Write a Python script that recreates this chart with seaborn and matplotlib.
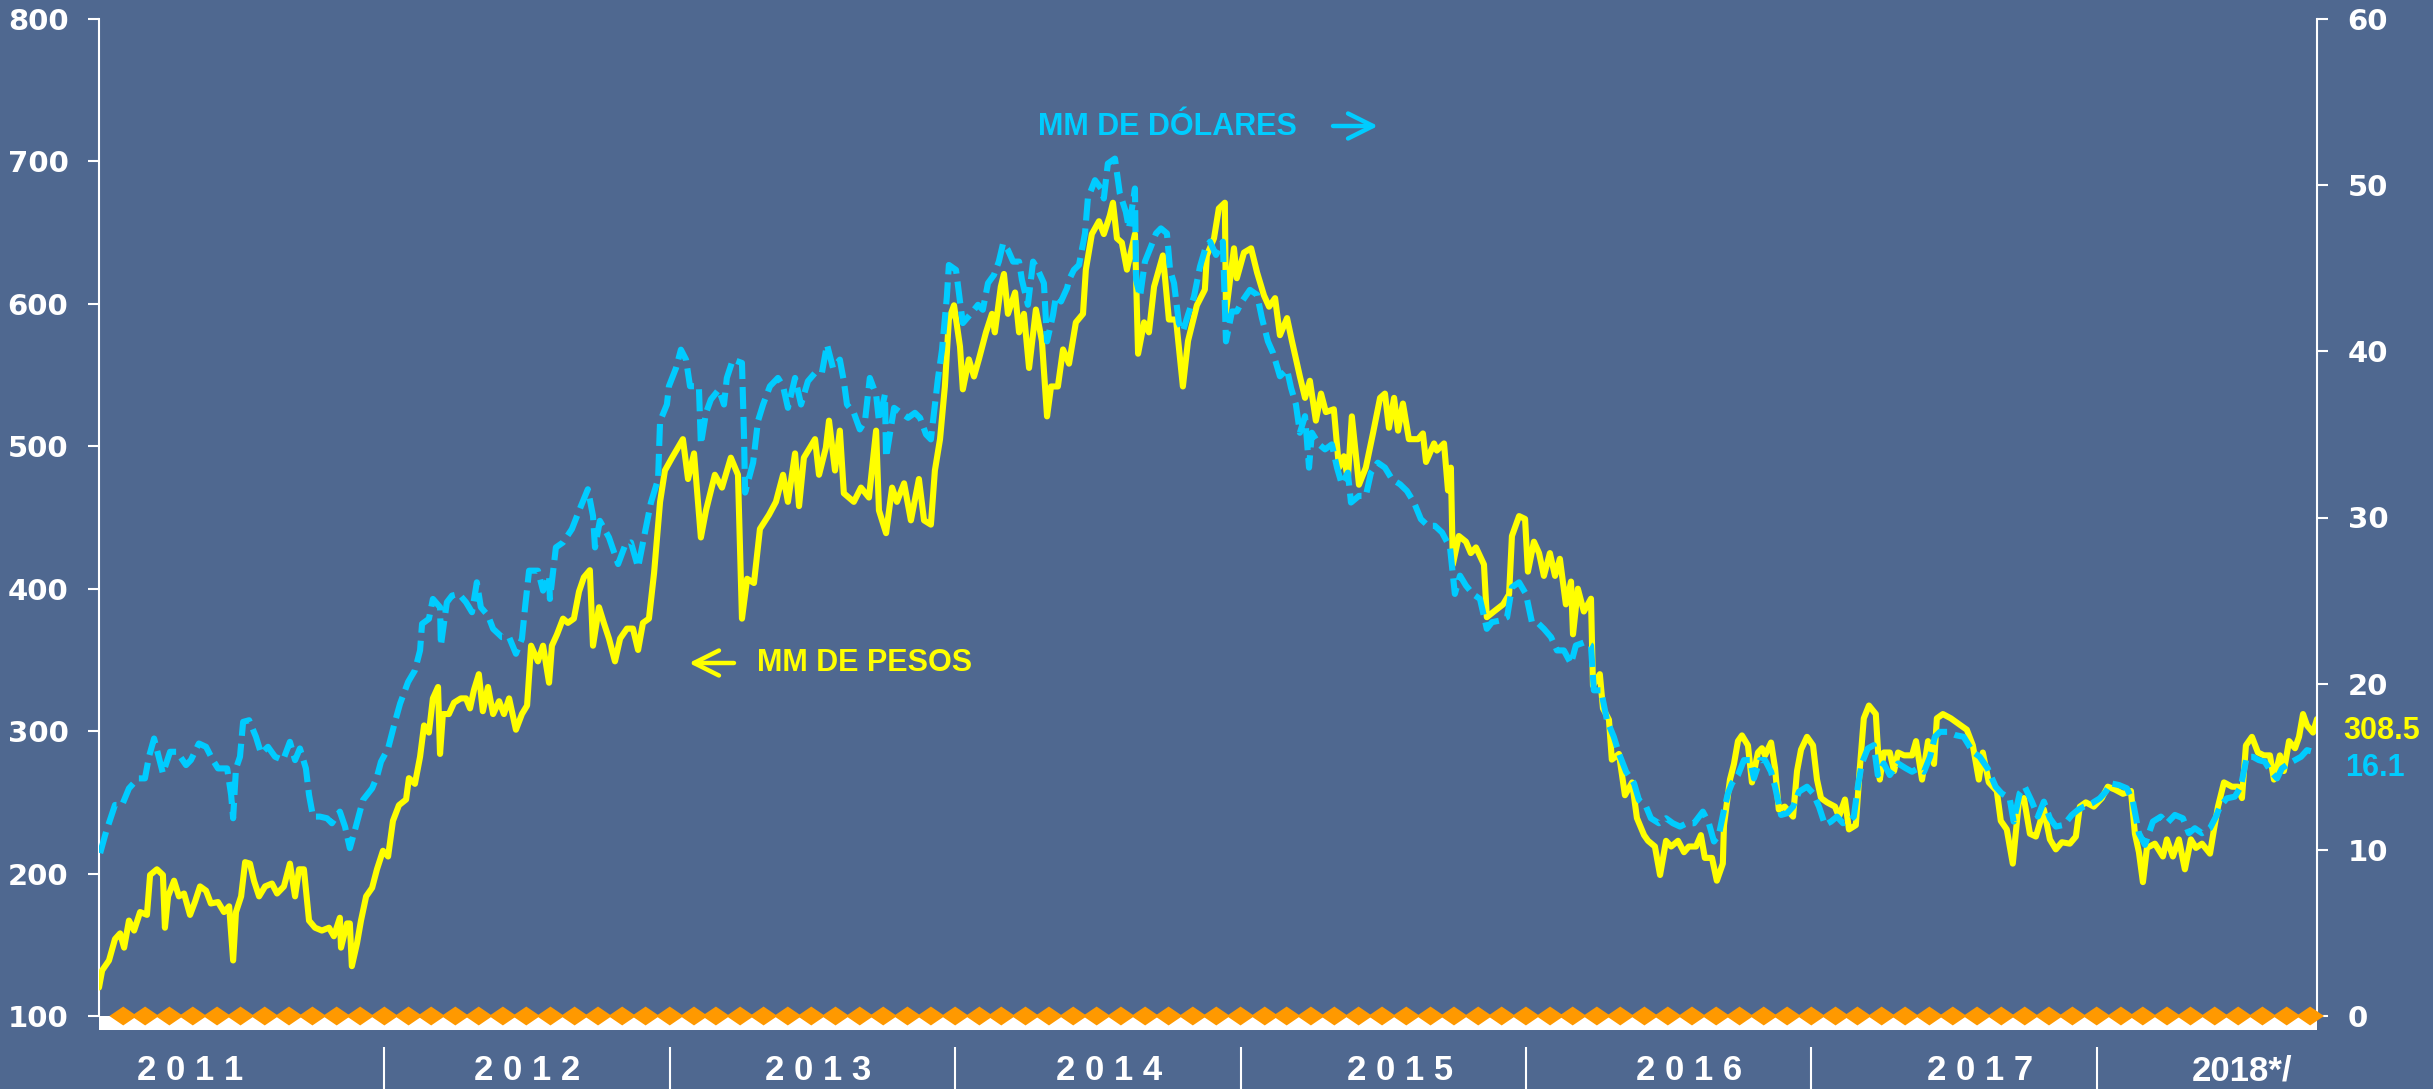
import matplotlib

matplotlib.use("Agg")

import matplotlib.pyplot as plt
import matplotlib.transforms as mtransforms
import numpy as np
import pandas as pd
import seaborn as sns
from matplotlib.patches import Rectangle
from matplotlib.path import Path

BACKGROUND = "#4F6890"
YELLOW = "#FFFF00"
CYAN = "#00CCFF"
ORANGE = "#FF9900"
WHITE = "#FFFFFF"

# MM de pesos (left axis), fractional year vs value
peso_t = [
    2011.000, 2011.011, 2011.035, 2011.056, 2011.074, 2011.088, 2011.105, 2011.123, 2011.144, 2011.168,
    2011.179, 2011.203, 2011.224, 2011.231, 2011.242, 2011.263, 2011.280, 2011.298, 2011.319, 2011.336,
    2011.354, 2011.375, 2011.392, 2011.417, 2011.438, 2011.456, 2011.470, 2011.480, 2011.498, 2011.512,
    2011.529, 2011.543, 2011.561, 2011.582, 2011.606, 2011.624, 2011.648, 2011.669, 2011.687, 2011.701,
    2011.718, 2011.736, 2011.757, 2011.781, 2011.806, 2011.823, 2011.844, 2011.848, 2011.869, 2011.879,
    2011.886, 2011.904, 2011.918, 2011.936, 2011.957, 2011.974, 2011.995, 2012.013, 2012.030, 2012.051,
    2012.076, 2012.086, 2012.107, 2012.125, 2012.139, 2012.156, 2012.170, 2012.188, 2012.195, 2012.205,
    2012.226, 2012.244, 2012.268, 2012.286, 2012.300, 2012.314, 2012.331, 2012.345, 2012.363, 2012.381,
    2012.402, 2012.419, 2012.437, 2012.461, 2012.482, 2012.500, 2012.514, 2012.538, 2012.556, 2012.577,
    2012.587, 2012.605, 2012.626, 2012.643, 2012.664, 2012.682, 2012.699, 2012.720, 2012.731, 2012.752,
    2012.769, 2012.787, 2012.808, 2012.826, 2012.850, 2012.871, 2012.889, 2012.906, 2012.927, 2012.945,
    2012.966, 2012.983, 2013.008, 2013.046, 2013.064, 2013.085, 2013.109, 2013.127, 2013.158, 2013.183,
    2013.214, 2013.239, 2013.253, 2013.271, 2013.295, 2013.316, 2013.348, 2013.372, 2013.397, 2013.414,
    2013.439, 2013.453, 2013.470, 2013.509, 2013.523, 2013.547, 2013.558, 2013.579, 2013.596, 2013.610,
    2013.645, 2013.670, 2013.698, 2013.723, 2013.733, 2013.758, 2013.779, 2013.796, 2013.821, 2013.845,
    2013.873, 2013.891, 2013.915, 2013.929, 2013.947, 2013.964, 2013.978, 2013.996, 2014.017, 2014.027,
    2014.048, 2014.066, 2014.083, 2014.108, 2014.129, 2014.139, 2014.160, 2014.171, 2014.185, 2014.210,
    2014.224, 2014.241, 2014.259, 2014.283, 2014.304, 2014.322, 2014.336, 2014.360, 2014.378, 2014.399,
    2014.423, 2014.448, 2014.458, 2014.479, 2014.504, 2014.521, 2014.542, 2014.553, 2014.567, 2014.584,
    2014.602, 2014.630, 2014.641, 2014.662, 2014.679, 2014.697, 2014.728, 2014.749, 2014.774, 2014.798,
    2014.816, 2014.847, 2014.875, 2014.882, 2014.907, 2014.924, 2014.945, 2014.949, 2014.977, 2014.987,
    2015.012, 2015.037, 2015.058, 2015.082, 2015.100, 2015.121, 2015.138, 2015.163, 2015.180, 2015.208,
    2015.226, 2015.243, 2015.264, 2015.282, 2015.299, 2015.327, 2015.345, 2015.362, 2015.376, 2015.390,
    2015.415, 2015.439, 2015.464, 2015.489, 2015.506, 2015.520, 2015.538, 2015.552, 2015.569, 2015.590,
    2015.622, 2015.639, 2015.650, 2015.678, 2015.688, 2015.713, 2015.727, 2015.737, 2015.744, 2015.765,
    2015.790, 2015.807, 2015.825, 2015.853, 2015.863, 2015.888, 2015.920, 2015.941, 2015.951, 2015.976,
    2015.997, 2016.007, 2016.028, 2016.046, 2016.063, 2016.084, 2016.102, 2016.119, 2016.140, 2016.158,
    2016.165, 2016.182, 2016.203, 2016.228, 2016.235, 2016.259, 2016.270, 2016.291, 2016.301, 2016.326,
    2016.347, 2016.372, 2016.389, 2016.414, 2016.428, 2016.452, 2016.470, 2016.491, 2016.509, 2016.533,
    2016.554, 2016.571, 2016.596, 2016.613, 2016.627, 2016.652, 2016.669, 2016.690, 2016.694, 2016.715,
    2016.729, 2016.743, 2016.757, 2016.778, 2016.792, 2016.813, 2016.827, 2016.838, 2016.859, 2016.873,
    2016.886, 2016.907, 2016.936, 2016.950, 2016.964, 2016.985, 2017.006, 2017.020, 2017.034, 2017.055,
    2017.083, 2017.097, 2017.118, 2017.132, 2017.156, 2017.170, 2017.184, 2017.202, 2017.226, 2017.240,
    2017.254, 2017.275, 2017.290, 2017.304, 2017.325, 2017.353, 2017.367, 2017.388, 2017.409, 2017.430,
    2017.440, 2017.461, 2017.489, 2017.510, 2017.545, 2017.566, 2017.587, 2017.601, 2017.622, 2017.650,
    2017.664, 2017.685, 2017.706, 2017.727, 2017.745, 2017.766, 2017.787, 2017.815, 2017.836, 2017.857,
    2017.878, 2017.906, 2017.927, 2017.941, 2017.962, 2017.990, 2018.018, 2018.039, 2018.064, 2018.092,
    2018.120, 2018.134, 2018.148, 2018.162, 2018.176, 2018.204, 2018.232, 2018.246, 2018.267, 2018.288,
    2018.309, 2018.330, 2018.348, 2018.369, 2018.397, 2018.411, 2018.425, 2018.446, 2018.474, 2018.495,
    2018.509, 2018.523, 2018.544, 2018.565, 2018.586, 2018.607, 2018.621, 2018.642, 2018.656, 2018.674,
    2018.695, 2018.709, 2018.723, 2018.737, 2018.758, 2018.772,
]
peso_mm = [
    120, 132, 139, 154, 158, 148, 167, 160, 173, 171,
    199, 203, 199, 162, 184, 195, 184, 186, 171, 180,
    191, 188, 179, 180, 173, 177, 139, 173, 184, 208,
    207, 195, 184, 191, 193, 186, 191, 207, 184, 203,
    203, 167, 162, 160, 162, 156, 169, 148, 165, 165,
    135, 151, 167, 184, 190, 203, 216, 212, 237, 248,
    252, 267, 263, 282, 304, 299, 323, 331, 284, 312,
    312, 320, 323, 323, 316, 329, 340, 314, 331, 312,
    321, 312, 323, 301, 312, 318, 360, 349, 360, 334,
    360, 368, 379, 376, 379, 398, 408, 413, 360, 387,
    376, 365, 349, 365, 372, 372, 357, 376, 379, 411,
    461, 483, 492, 505, 477, 495, 436, 455, 480, 471,
    492, 480, 379, 407, 404, 442, 452, 461, 480, 461,
    495, 458, 492, 505, 480, 499, 518, 483, 511, 467,
    461, 471, 464, 511, 455, 439, 471, 461, 474, 448,
    477, 448, 445, 483, 505, 542, 589, 599, 570, 540,
    561, 549, 561, 580, 593, 580, 612, 621, 593, 608,
    580, 593, 555, 596, 574, 521, 542, 542, 568, 558,
    587, 593, 624, 649, 658, 649, 662, 671, 646, 643,
    624, 649, 565, 587, 580, 612, 634, 589, 589, 542,
    574, 599, 610, 634, 646, 667, 671, 594, 639, 618,
    636, 639, 622, 606, 598, 604, 578, 590, 574, 549,
    534, 546, 518, 537, 524, 526, 485, 493, 477, 521,
    473, 485, 509, 534, 537, 513, 534, 511, 530, 505,
    505, 509, 489, 502, 497, 502, 469, 485, 417, 437,
    433, 425, 429, 417, 380, 384, 389, 396, 437, 451,
    449, 412, 433, 425, 409, 425, 409, 421, 389, 405,
    368, 400, 384, 393, 332, 340, 316, 308, 280, 284,
    255, 264, 239, 227, 223, 219, 199, 223, 219, 223,
    215, 219, 219, 227, 211, 211, 195, 207, 234, 266,
    277, 293, 297, 290, 264, 285, 288, 283, 292, 274,
    245, 247, 240, 272, 287, 296, 290, 266, 253, 250,
    247, 240, 252, 231, 234, 274, 309, 318, 312, 266,
    285, 285, 272, 285, 283, 283, 293, 266, 293, 277,
    309, 312, 309, 306, 301, 290, 266, 285, 264, 258,
    237, 231, 207, 250, 253, 228, 226, 245, 224, 217,
    222, 221, 226, 247, 250, 247, 253, 261, 259, 256,
    258, 228, 215, 194, 218, 221, 212, 224, 212, 224,
    203, 224, 218, 221, 214, 231, 247, 264, 261, 261,
    253, 290, 296, 285, 283, 283, 266, 283, 272, 293,
    288, 296, 312, 304, 299, 308.5,
]

# MM de dolares (right axis)
usd_t = [
    2011.004, 2011.025, 2011.056, 2011.081, 2011.105, 2011.137, 2011.161, 2011.175, 2011.193, 2011.224,
    2011.249, 2011.273, 2011.305, 2011.322, 2011.350, 2011.375, 2011.399, 2011.417, 2011.449, 2011.463,
    2011.470, 2011.480, 2011.494, 2011.505, 2011.526, 2011.550, 2011.568, 2011.592, 2011.617, 2011.645,
    2011.669, 2011.687, 2011.704, 2011.725, 2011.736, 2011.750, 2011.774, 2011.799, 2011.816, 2011.844,
    2011.862, 2011.879, 2011.900, 2011.925, 2011.957, 2011.974, 2011.988, 2012.013, 2012.037, 2012.055,
    2012.083, 2012.107, 2012.125, 2012.132, 2012.156, 2012.170, 2012.195, 2012.198, 2012.219, 2012.237,
    2012.261, 2012.286, 2012.307, 2012.324, 2012.338, 2012.363, 2012.381, 2012.412, 2012.437, 2012.461,
    2012.482, 2012.493, 2012.507, 2012.538, 2012.556, 2012.577, 2012.580, 2012.601, 2012.626, 2012.657,
    2012.682, 2012.713, 2012.731, 2012.738, 2012.755, 2012.787, 2012.819, 2012.843, 2012.864, 2012.889,
    2012.913, 2012.934, 2012.959, 2012.966, 2012.990, 2012.997, 2013.022, 2013.039, 2013.057, 2013.071,
    2013.102, 2013.109, 2013.127, 2013.144, 2013.172, 2013.190, 2013.200, 2013.221, 2013.253, 2013.260,
    2013.264, 2013.292, 2013.309, 2013.327, 2013.351, 2013.379, 2013.397, 2013.414, 2013.439, 2013.460,
    2013.484, 2013.509, 2013.533, 2013.551, 2013.572, 2013.596, 2013.610, 2013.621, 2013.645, 2013.666,
    2013.684, 2013.701, 2013.723, 2013.733, 2013.754, 2013.758, 2013.786, 2013.810, 2013.835, 2013.859,
    2013.877, 2013.898, 2013.915, 2013.929, 2013.940, 2013.954, 2013.971, 2013.978, 2014.003, 2014.017,
    2014.027, 2014.052, 2014.080, 2014.097, 2014.115, 2014.136, 2014.153, 2014.168, 2014.185, 2014.203,
    2014.224, 2014.234, 2014.255, 2014.273, 2014.290, 2014.311, 2014.322, 2014.343, 2014.353, 2014.371,
    2014.392, 2014.399, 2014.416, 2014.434, 2014.455, 2014.465, 2014.490, 2014.511, 2014.521, 2014.535,
    2014.560, 2014.577, 2014.598, 2014.609, 2014.630, 2014.634, 2014.648, 2014.665, 2014.686, 2014.704,
    2014.721, 2014.742, 2014.753, 2014.767, 2014.784, 2014.798, 2014.816, 2014.837, 2014.858, 2014.875,
    2014.893, 2014.914, 2014.938, 2014.949, 2014.970, 2014.987, 2015.005, 2015.033, 2015.058, 2015.075,
    2015.096, 2015.114, 2015.138, 2015.163, 2015.177, 2015.194, 2015.208, 2015.226, 2015.240, 2015.250,
    2015.275, 2015.296, 2015.320, 2015.338, 2015.355, 2015.376, 2015.387, 2015.415, 2015.439, 2015.457,
    2015.481, 2015.506, 2015.531, 2015.559, 2015.583, 2015.608, 2015.632, 2015.657, 2015.681, 2015.706,
    2015.734, 2015.751, 2015.769, 2015.790, 2015.814, 2015.839, 2015.863, 2015.881, 2015.909, 2015.934,
    2015.951, 2015.976, 2016.000, 2016.021, 2016.039, 2016.063, 2016.088, 2016.109, 2016.133, 2016.158,
    2016.175, 2016.207, 2016.228, 2016.238, 2016.263, 2016.284, 2016.308, 2016.326, 2016.351, 2016.379,
    2016.396, 2016.421, 2016.438, 2016.466, 2016.491, 2016.515, 2016.540, 2016.564, 2016.589, 2016.620,
    2016.641, 2016.659, 2016.676, 2016.694, 2016.708, 2016.722, 2016.743, 2016.764, 2016.785, 2016.799,
    2016.820, 2016.838, 2016.859, 2016.873, 2016.894, 2016.915, 2016.936, 2016.957, 2016.985, 2017.006,
    2017.027, 2017.048, 2017.069, 2017.090, 2017.111, 2017.132, 2017.149, 2017.163, 2017.177, 2017.198,
    2017.219, 2017.233, 2017.254, 2017.275, 2017.304, 2017.332, 2017.353, 2017.374, 2017.395, 2017.416,
    2017.433, 2017.451, 2017.478, 2017.506, 2017.534, 2017.566, 2017.590, 2017.618, 2017.646, 2017.667,
    2017.695, 2017.709, 2017.730, 2017.748, 2017.773, 2017.794, 2017.815, 2017.836, 2017.857, 2017.885,
    2017.913, 2017.934, 2017.955, 2017.983, 2018.011, 2018.032, 2018.050, 2018.078, 2018.106, 2018.127,
    2018.148, 2018.169, 2018.197, 2018.225, 2018.246, 2018.274, 2018.302, 2018.323, 2018.344, 2018.369,
    2018.397, 2018.418, 2018.432, 2018.456, 2018.484, 2018.505, 2018.526, 2018.547, 2018.568, 2018.589,
    2018.611, 2018.632, 2018.649, 2018.674, 2018.695, 2018.716, 2018.737, 2018.758, 2018.772,
]
usd_mm = [
    9.8, 11.1, 12.7, 12.7, 13.7, 14.3, 14.3, 15.6, 16.7, 14.6,
    15.9, 15.9, 15.1, 15.4, 16.4, 16.2, 15.4, 14.9, 14.9, 13.3,
    11.9, 14.9, 15.6, 17.7, 17.8, 16.8, 15.8, 16.2, 15.6, 15.4,
    16.5, 15.4, 16.1, 14.9, 13.3, 12.0, 12.0, 11.9, 11.6, 12.3,
    11.4, 10.1, 11.4, 13.0, 13.7, 14.4, 15.3, 16.1, 17.7, 18.8,
    20.1, 20.8, 22.0, 23.6, 23.9, 25.1, 24.6, 22.3, 24.9, 25.3,
    25.4, 24.9, 24.3, 26.1, 24.6, 24.1, 23.3, 22.8, 22.8, 21.8,
    22.7, 24.6, 26.8, 26.8, 25.6, 26.5, 25.1, 28.2, 28.5, 29.3,
    30.4, 31.7, 30.1, 28.2, 29.8, 28.8, 27.2, 28.3, 28.5, 27.0,
    29.1, 30.9, 32.3, 35.8, 36.8, 37.9, 39.0, 40.1, 39.5, 37.9,
    37.9, 34.4, 36.3, 37.1, 37.7, 36.8, 38.4, 39.5, 39.3, 35.0,
    31.5, 33.3, 35.8, 36.8, 37.9, 38.4, 37.9, 36.6, 38.4, 36.8,
    38.2, 38.7, 38.7, 40.4, 39.0, 39.5, 38.2, 36.8, 36.3, 35.3,
    35.8, 38.4, 37.4, 35.8, 37.4, 33.6, 36.6, 36.3, 36.0, 36.3,
    36.0, 35.0, 34.7, 36.8, 38.4, 40.1, 43.3, 45.2, 44.9, 43.0,
    41.7, 42.2, 42.8, 42.5, 44.1, 44.6, 45.4, 46.5, 46.1, 45.4,
    45.4, 44.3, 42.8, 45.4, 44.9, 44.1, 40.6, 42.2, 43.3, 43.0,
    43.8, 44.3, 44.9, 45.2, 47.1, 49.2, 50.3, 49.8, 49.2, 51.3,
    51.6, 49.5, 48.4, 47.4, 49.8, 44.3, 43.3, 45.4, 46.3, 47.1,
    47.4, 47.1, 44.9, 44.1, 41.7, 41.2, 42.2, 43.3, 45.1, 46.1,
    46.6, 45.8, 46.6, 40.6, 42.4, 42.4, 43.0, 43.7, 43.4, 42.0,
    40.6, 39.9, 38.5, 38.9, 37.8, 36.8, 35.1, 36.1, 33.0, 35.1,
    34.4, 34.1, 34.4, 33.0, 32.0, 32.7, 30.9, 31.3, 31.3, 32.7,
    33.3, 33.0, 32.3, 32.0, 31.6, 30.9, 29.9, 29.5, 29.5, 29.1,
    28.2, 25.4, 26.5, 25.9, 25.4, 25.1, 23.3, 23.7, 23.8, 24.0,
    25.8, 26.1, 25.4, 23.7, 23.7, 23.3, 22.8, 22.0, 22.0, 21.2,
    22.3, 22.5, 22.3, 19.6, 19.6, 17.8, 16.8, 15.8, 14.7, 14.0,
    13.0, 12.6, 11.9, 11.6, 11.9, 11.6, 11.4, 11.6, 11.6, 12.3,
    11.6, 10.5, 10.9, 12.4, 13.4, 14.0, 14.5, 15.4, 15.4, 14.3,
    15.4, 15.4, 14.7, 13.8, 12.1, 12.2, 12.6, 13.5, 13.8, 13.4,
    12.6, 11.5, 11.7, 12.0, 11.6, 11.7, 12.0, 13.8, 15.2, 16.1,
    16.3, 14.5, 15.2, 14.5, 15.2, 14.9, 14.7, 14.9, 14.7, 15.6,
    16.8, 17.1, 17.1, 16.9, 16.8, 15.9, 15.6, 14.9, 13.8, 13.4,
    13.1, 11.7, 13.4, 13.8, 12.9, 12.0, 12.9, 11.9, 11.4, 11.5,
    12.1, 12.4, 12.6, 12.8, 13.1, 13.5, 14.0, 13.9, 13.7, 12.9,
    11.0, 10.3, 11.7, 12.0, 11.6, 12.1, 11.9, 11.0, 11.3, 11.0,
    11.3, 12.0, 12.6, 13.1, 13.2, 13.8, 15.6, 15.6, 15.4, 15.3,
    14.7, 14.3, 14.9, 15.2, 15.4, 15.6, 16.0, 15.9, 16.1,
]

year_labels = ["2 0 1 1", "2 0 1 2", "2 0 1 3", "2 0 1 4", "2 0 1 5", "2 0 1 6", "2 0 1 7", "2018*/"]
year_breaks = [2012, 2013, 2014, 2015, 2016, 2017, 2018]
left_ticks = [100, 200, 300, 400, 500, 600, 700, 800]
right_ticks = [0, 10, 20, 30, 40, 50, 60]

# monthly zero-level markers along the base line
months = pd.date_range("2011-02-01", "2018-10-01", freq="MS")
month_t = months.year + (months.dayofyear - 1) / np.where(months.is_leap_year, 366, 365)
month_zero = np.zeros(len(months))

# layout (not data)
YEAR_LABEL_X = [2011.32, 2012.50, 2013.52, 2014.54, 2015.56, 2016.57, 2017.59, 2018.51]
X_MIN, X_MAX = 2011.0, 2018.772

sns.set_theme(style="dark", rc={"axes.facecolor": BACKGROUND, "figure.facecolor": BACKGROUND})
plt.rcParams["font.family"] = ["Liberation Sans", "DejaVu Sans"]

W, H = 2433, 1089
fig = plt.figure(figsize=(W / 100, H / 100), dpi=100)
ax = fig.add_axes([99 / W, 1 - 1016 / H, 2218 / W, 997 / H])
ax2 = ax.twinx()

sns.lineplot(
    x=peso_t, y=peso_mm, ax=ax, color=YELLOW, linewidth=4.4,
    estimator=None, sort=False, solid_capstyle="round", solid_joinstyle="round", zorder=4,
)
sns.lineplot(
    x=usd_t, y=usd_mm, ax=ax2, color=CYAN, linewidth=4.4,
    estimator=None, sort=False, zorder=3,
)
for line in ax2.get_lines():
    line.set_dashes((3.6, 1.3))
    line.set_dash_capstyle("butt")

# white base strip with orange diamonds
ax.add_patch(Rectangle((0, -0.014), 1, 0.014, transform=ax.transAxes,
                       facecolor=WHITE, edgecolor="none", clip_on=False, zorder=2))
diamond = Path([(0, -0.68), (1, 0), (0, 0.68), (-1, 0), (0, -0.68)],
               [Path.MOVETO, Path.LINETO, Path.LINETO, Path.LINETO, Path.CLOSEPOLY])
sns.scatterplot(x=month_t, y=month_zero, ax=ax2, marker=diamond, s=400,
                color=ORANGE, edgecolor="none", linewidth=0, clip_on=False, zorder=5)

ax.set_xlim(X_MIN, X_MAX)
ax.set_ylim(100, 800)
ax2.set_ylim(0, 60)
ax.set_xticks([])
ax.set_yticks(left_ticks)
ax2.set_yticks(right_ticks)
ax.set_xlabel("")
ax.set_ylabel("")
ax2.set_ylabel("")

for a in (ax, ax2):
    for side in ("top", "bottom", "left", "right"):
        a.spines[side].set_visible(False)
    a.grid(False)
ax.spines["left"].set_visible(True)
ax.spines["left"].set_color(WHITE)
ax.spines["left"].set_linewidth(1.5)
ax2.spines["right"].set_visible(True)
ax2.spines["right"].set_color(WHITE)
ax2.spines["right"].set_linewidth(1.5)

tick_font = {"family": "DejaVu Sans", "weight": "bold", "size": 21}
ax.tick_params(axis="y", direction="out", length=8, width=1.5, color=WHITE, pad=14, labelcolor=WHITE)
ax2.tick_params(axis="y", direction="out", length=8, width=1.5, color=WHITE, pad=14, labelcolor=WHITE)
ax.set_yticklabels([str(v) for v in left_ticks], fontdict=tick_font)
ax2.set_yticklabels([str(v) for v in right_ticks], fontdict=tick_font)

# year separators and labels below the strip
bottom_tr = mtransforms.blended_transform_factory(ax.transData, fig.transFigure)
ax.vlines(year_breaks, 0, 1 - 1047 / H, transform=bottom_tr, colors=WHITE, linewidth=1.5, clip_on=False)
for xpos, label in zip(YEAR_LABEL_X, year_labels):
    ax.text(xpos, 1 - 1071 / H, label, transform=bottom_tr, ha="center", va="center",
            color=WHITE, fontsize=25, fontweight="bold")

# series annotations
label_font = {"fontsize": 22, "fontweight": "bold"}
fig.text(1038 / W, 1 - 127 / H, "MM DE DÓLARES", color=CYAN, ha="left", va="center", **label_font)
ax.annotate("", xy=(1378 / W, 1 - 126 / H), xytext=(1333 / W, 1 - 126 / H), xycoords="figure fraction",
            arrowprops=dict(arrowstyle="->,head_length=0.9,head_width=0.45", lw=3.2, color=CYAN,
                            mutation_scale=20, shrinkA=0, shrinkB=0))
fig.text(757 / W, 1 - 663 / H, "MM DE PESOS", color=YELLOW, ha="left", va="center", **label_font)
ax.annotate("", xy=(689 / W, 1 - 663 / H), xytext=(734 / W, 1 - 663 / H), xycoords="figure fraction",
            arrowprops=dict(arrowstyle="->,head_length=0.9,head_width=0.45", lw=3.2, color=YELLOW,
                            mutation_scale=20, shrinkA=0, shrinkB=0))

fig.text(2343 / W, 1 - 731 / H, f"{peso_mm[-1]:.1f}", color=YELLOW, ha="left", va="center", **label_font)
fig.text(2345 / W, 1 - 768 / H, f"{usd_mm[-1]:.1f}", color=CYAN, ha="left", va="center", **label_font)

fig.savefig("out.png", dpi=100, facecolor=BACKGROUND)
plt.close(fig)
